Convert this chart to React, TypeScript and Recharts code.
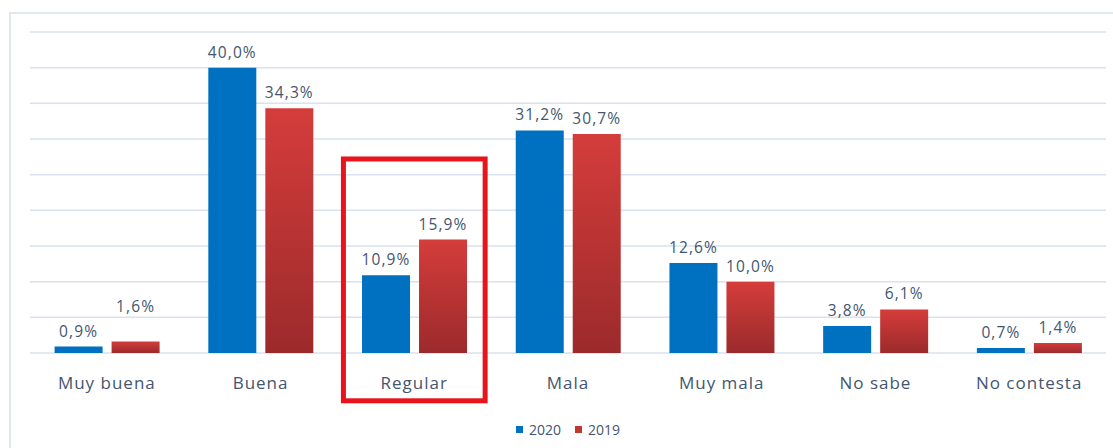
import React from 'react';
import { BarChart, Bar, XAxis, YAxis, CartesianGrid, LabelList, Legend, ReferenceArea } from 'recharts';

const categories = ['Muy buena', 'Buena', 'Regular', 'Mala', 'Muy mala', 'No sabe', 'No contesta'];
const values2020 = [0.9, 40.0, 10.9, 31.2, 12.6, 3.8, 0.7];
const values2019 = [1.6, 34.3, 15.9, 30.7, 10.0, 6.1, 1.4];
const yTicks = [0, 5, 10, 15, 20, 25, 30, 35, 40, 45];
const highlightCategory = 'Regular';
const highlightRange = [-6.7, 27.2];
// label manually lifted in the original chart
const liftedLabels2019: Record<string, number> = { 'Muy buena': 20 };

const data = categories.map((c, i) => ({ name: c, y2020: values2020[i], y2019: values2019[i] }));

const TEXT = '#43566F';
const BLUE = '#0070C0';
const FONT = '"Open Sans", "Liberation Sans", sans-serif';

const fmt = (v: any) => Number(v).toFixed(1).replace('.', ',') + '%';

const LegendContent = () => (
  <div style={{ display: 'flex', justifyContent: 'center', alignItems: 'center', fontFamily: FONT, fontSize: 14, color: TEXT }}>
    <span style={{ display: 'inline-block', width: 7, height: 7, background: BLUE, marginRight: 6 }} />
    <span style={{ marginRight: 14 }}>2020</span>
    <span style={{ display: 'inline-block', width: 7, height: 7, background: '#C0392F', marginRight: 6 }} />
    <span>2019</span>
  </div>
);

const HighlightShape = (props: any) => {
  const { x, y, width, height } = props;
  const inset = 6;
  return (
    <rect x={x + inset} y={y} width={width - inset * 2} height={height} fill="none" stroke="#E8141C" strokeWidth={5} />
  );
};

const makeLabel = (lifts: Record<string, number>) => (props: any) => {
  const { x, y, width, value, index } = props;
  const lift = lifts[categories[index]] || 0;
  return (
    <text
      x={x + width / 2}
      y={y - 10 - lift}
      textAnchor="middle"
      fill={TEXT}
      fontSize={15.5}
      fontWeight={500}
      letterSpacing={1.1}
      fontFamily={FONT}
    >
      {fmt(value)}
    </text>
  );
};

export default function App() {
  return (
    <div style={{ position: 'absolute', left: 0, top: 0, width: 1113, height: 448, background: '#fff' }}>
      <div style={{ position: 'absolute', left: 9, top: 12, right: 0, bottom: 0, borderLeft: '2px solid #E1E8F0', borderTop: '2px solid #E1E8F0' }} />
      <div style={{ position: 'absolute', left: 0, top: 0 }}>
        <BarChart
          width={1113}
          height={448}
          data={data}
          margin={{ top: 32, right: 7, left: 30, bottom: 0 }}
          barCategoryGap="16%"
          barGap={9}
        >
          <defs>
            <linearGradient id="redGrad" x1="0" y1="0" x2="0" y2="1">
              <stop offset="0%" stopColor="#D43D3B" />
              <stop offset="100%" stopColor="#9C2A2B" />
            </linearGradient>
          </defs>
          <CartesianGrid vertical={false} stroke="#D9E2EE" strokeWidth={1.5} />
          <YAxis hide domain={[0, 45]} ticks={yTicks} />
          <XAxis
            dataKey="name"
            height={95}
            axisLine={false}
            tickLine={false}
            tickSize={0}
            tickMargin={24}
            interval={0}
            tick={{ fill: TEXT, fontSize: 17, fontFamily: FONT, fontWeight: 500, letterSpacing: 1 }}
          />
          <Bar dataKey="y2020" name="2020" fill={BLUE} isAnimationActive={false}>
            <LabelList dataKey="y2020" content={makeLabel({})} />
          </Bar>
          <Bar dataKey="y2019" name="2019" fill="url(#redGrad)" isAnimationActive={false}>
            <LabelList dataKey="y2019" content={makeLabel(liftedLabels2019)} />
          </Bar>
          <ReferenceArea
            x1={highlightCategory}
            x2={highlightCategory}
            y1={highlightRange[0]}
            y2={highlightRange[1]}
            ifOverflow="visible"
            shape={HighlightShape}
          />
          <Legend
            layout="horizontal"
            verticalAlign="middle"
            align="center"
            content={LegendContent}
            wrapperStyle={{ top: 420, left: 30, width: 1076 }}
          />
        </BarChart>
      </div>
    </div>
  );
}
